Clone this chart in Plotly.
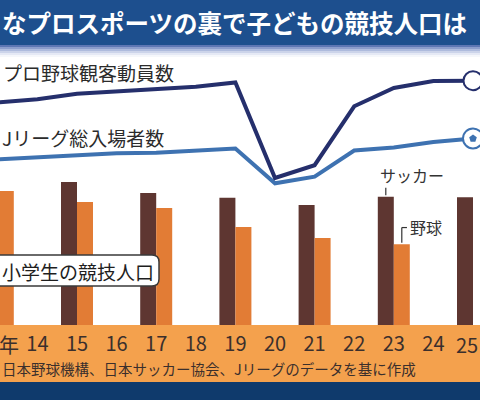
import plotly.graph_objects as go

# ---------------- data ----------------
line_years = [13, 14, 15, 16, 17, 18, 19, 20, 21, 22, 23, 24, 25]
npb_attendance = [2204, 2280, 2400, 2460, 2505, 2560, 2654, 510, 795, 2120, 2530, 2685, 2695]   # 万人
jleague_attendance = [924, 973, 1025, 1063, 1076, 1115, 1171, 389, 537, 1126, 1193, 1317, 1396]  # 万人

bar_years = [13, 15, 17, 19, 21, 23, 25]
soccer_kids = [29.5, 29.8, 27.5, 26.5, 25.0, 26.7, 26.6]      # 万人
baseball_kids = [27.9, 25.6, 24.4, 20.4, 18.1, 16.8, None]    # 万人

tick_years = [14, 15, 16, 17, 18, 19, 20, 21, 22, 23, 24, 25]
tick_labels = ["14", "15", "16", "17", "18", "19", "20", "21", "22", "23", "24", "25"]
first_label = "年"

title_text = "なプロスポーツの裏で子どもの競技人口は"
source_text = "日本野球機構、日本サッカー協会、Jリーグのデータを基に作成"

# ---------------- layout helpers ----------------
W, H = 480, 400
TOP, BOT = 58, 325          # plot-area pixel rows
FONT = "Noto Sans CJK JP"

def py(p):
    return (BOT - p) / (BOT - TOP)

def px(p):
    return p / W

C_NPB = "#252f6c"
C_J = "#3e72b1"
C_SOC = "#5e3631"
C_BASE = "#e27c35"
C_TXT = "#2b2b2b"
C_TICK = "#3b2f2c"

fig = go.Figure()

bar_w = 16 / 39.6
fig.add_trace(go.Bar(x=bar_years, y=soccer_kids, width=bar_w, offset=-bar_w,
                     marker=dict(color=C_SOC, line=dict(width=0)), name="サッカー", yaxis="y"))
fig.add_trace(go.Bar(x=bar_years, y=baseball_kids, width=bar_w, offset=0,
                     marker=dict(color=C_BASE, line=dict(width=0)), name="野球", yaxis="y"))

fig.add_trace(go.Scatter(x=line_years, y=jleague_attendance, mode="lines",
                         line=dict(color=C_J, width=4), yaxis="y2", name="Jリーグ総入場者数"))
fig.add_trace(go.Scatter(x=line_years, y=npb_attendance, mode="lines",
                         line=dict(color=C_NPB, width=4), yaxis="y2", name="プロ野球観客動員数"))

# end icons (ball markers at last data point)
fig.add_trace(go.Scatter(x=line_years[-1:], y=npb_attendance[-1:], mode="markers", cliponaxis=False,
                         marker=dict(symbol="circle", size=19, color="white",
                                     line=dict(color=C_NPB, width=2)), yaxis="y2"))
fig.add_trace(go.Scatter(x=line_years[-1:], y=jleague_attendance[-1:], mode="markers", cliponaxis=False,
                         marker=dict(symbol="circle", size=20, color="white",
                                     line=dict(color=C_J, width=2)), yaxis="y2"))
fig.add_trace(go.Scatter(x=line_years[-1:], y=jleague_attendance[-1:], mode="markers", cliponaxis=False,
                         marker=dict(symbol="pentagon", size=8, color=C_J), yaxis="y2"))

# ---------------- shapes ----------------
shapes = []
# title band
shapes.append(dict(type="rect", xref="paper", yref="paper", x0=0, x1=1, y0=py(45), y1=py(-2),
                   fillcolor="#1d4f8e", line=dict(width=0), layer="below"))
grad = ["#5d76b4", "#8c9dcc", "#aebbdd", "#ccd4ea", "#e5e9f5", "#f5f7fb"]
for i, c in enumerate(grad):
    shapes.append(dict(type="rect", xref="paper", yref="paper", x0=0, x1=1,
                       y0=py(45 + 2 * (i + 1)), y1=py(45 + 2 * i),
                       fillcolor=c, line=dict(width=0), layer="below"))
# axis band and bottom band
shapes.append(dict(type="rect", xref="paper", yref="paper", x0=0, x1=1, y0=py(382), y1=py(325),
                   fillcolor="#f4a14d", line=dict(width=0), layer="below"))
shapes.append(dict(type="rect", xref="paper", yref="paper", x0=0, x1=1, y0=py(402), y1=py(382),
                   fillcolor="#0f3a6c", line=dict(width=0), layer="below"))

# rounded label box
def rbox(x0, y0, x1, y1, r):
    pts = [("M", x0 + r, y0), ("L", x1 - r, y0), ("Q", x1, y0, x1, y0 + r), ("L", x1, y1 - r),
           ("Q", x1, y1, x1 - r, y1), ("L", x0 + r, y1), ("Q", x0, y1, x0, y1 - r),
           ("L", x0, y0 + r), ("Q", x0, y0, x0 + r, y0)]
    s = ""
    for p in pts:
        cmd = p[0]
        coords = p[1:]
        parts = []
        for k in range(0, len(coords), 2):
            parts.append(f"{px(coords[k]):.5f},{py(coords[k+1]):.5f}")
        s += cmd + " ".join(parts) + " "
    return s + "Z"

shapes.append(dict(type="path", xref="paper", yref="paper", path=rbox(-12, 255, 159, 286, 7),
                   fillcolor="white", line=dict(color="#3a3a3a", width=1.5), layer="above"))

# leader lines for bar labels
i23 = bar_years.index(23)
shapes.append(dict(type="line", xref="x", yref="y", x0=23 - bar_w / 2, x1=23 - bar_w / 2,
                   y0=soccer_kids[i23] + 0.35, y1=soccer_kids[i23] + 1.9,
                   line=dict(color="#333333", width=1.2)))
shapes.append(dict(type="line", xref="x", yref="y", x0=23 + bar_w / 2, x1=23 + bar_w / 2,
                   y0=baseball_kids[i23] + 0.35, y1=baseball_kids[i23] + 3.5,
                   line=dict(color="#333333", width=1.2)))
shapes.append(dict(type="line", xref="x", yref="y", x0=23 + bar_w / 2, x1=23 + bar_w / 2 + 0.13,
                   y0=baseball_kids[i23] + 3.5, y1=baseball_kids[i23] + 3.5,
                   line=dict(color="#333333", width=1.2)))

# ---------------- annotations ----------------
ann = []
ann.append(dict(text="<b>" + title_text + "</b>", xref="paper", yref="paper", x=0, y=py(23),
                xanchor="left", yanchor="middle", showarrow=False,
                font=dict(family=FONT, size=24.5, color="white")))
ann.append(dict(text="プロ野球観客動員数", xref="paper", yref="paper", x=0, xshift=1, y=py(72),
                xanchor="left", yanchor="middle", showarrow=False,
                font=dict(family=FONT, size=19, color=C_TXT)))
ann.append(dict(text="Jリーグ総入場者数", xref="paper", yref="paper", x=0, y=py(137),
                xanchor="left", yanchor="middle", showarrow=False,
                font=dict(family=FONT, size=19, color=C_TXT)))
ann.append(dict(text="小学生の競技人口", xref="paper", yref="paper", x=0, y=py(271),
                xanchor="left", yanchor="middle", showarrow=False,
                font=dict(family=FONT, size=19, color="#1e1e1e")))
ann.append(dict(text=first_label, xref="paper", yref="paper", x=0, xshift=-3, y=py(344),
                xanchor="left", yanchor="middle", showarrow=False,
                font=dict(family=FONT, size=20, color=C_TICK)))
# last tick label kept inside the page edge
ann.append(dict(text=tick_labels[-1], xref="paper", yref="paper", x=1, y=py(344),
                xanchor="right", yanchor="middle", showarrow=False,
                font=dict(family=FONT, size=20, color=C_TICK)))
ann.append(dict(text=source_text, xref="paper", yref="paper", x=0, y=py(368),
                xanchor="left", yanchor="middle", showarrow=False,
                font=dict(family=FONT, size=14.5, color=C_TICK)))
ann.append(dict(text="サッカー", xref="x", yref="y", x=23, xshift=-16, y=soccer_kids[i23], yshift=22,
                xanchor="left", yanchor="middle", showarrow=False,
                font=dict(family=FONT, size=16, color="#333333")))
ann.append(dict(text="野球", xref="x", yref="y", x=23, xshift=14, y=baseball_kids[i23], yshift=17,
                xanchor="left", yanchor="middle", showarrow=False,
                font=dict(family=FONT, size=16, color="#333333")))

fig.update_layout(
    width=W, height=H,
    margin=dict(l=0, r=0, t=TOP, b=H - BOT, pad=0),
    paper_bgcolor="white", plot_bgcolor="rgba(0,0,0,0)",
    showlegend=False, barmode="overlay",
    shapes=shapes, annotations=ann,
    xaxis=dict(range=[15 - 77 / 39.6, 15 + 403 / 39.6], showgrid=False, zeroline=False, showline=False,
               ticks="", tickvals=tick_years[:-1], ticktext=tick_labels[:-1], ticklabelstandoff=5,
               tickfont=dict(family=FONT, size=20, color=C_TICK)),
    yaxis=dict(range=[0, (BOT - TOP) / 4.8], visible=False, fixedrange=True),
    yaxis2=dict(range=[(200.6 - BOT) / 0.0445, (200.6 - TOP) / 0.0445], overlaying="y",
                visible=False),
)

fig.write_html("out.html", config={"displayModeBar": False},
               post_script="document.body.style.margin='0';document.body.style.overflow='hidden';")
